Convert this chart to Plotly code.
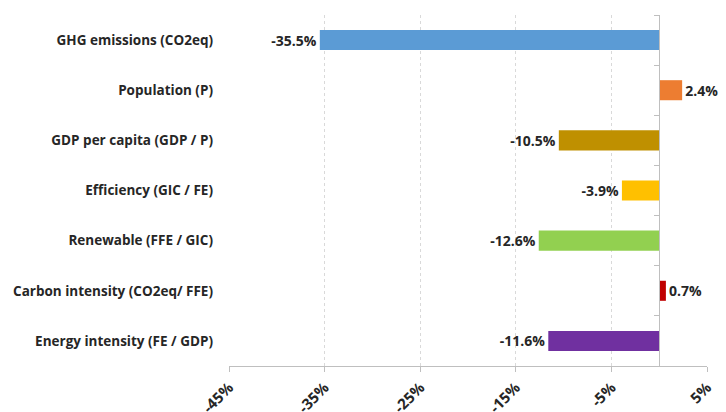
import plotly.graph_objects as go

categories = ["GHG emissions (CO2eq)", "Population (P)", "GDP per capita (GDP / P)",
              "Efficiency (GIC / FE)", "Renewable (FFE / GIC)",
              "Carbon intensity (CO2eq/ FFE)", "Energy intensity (FE / GDP)"]
values = [-35.5, 2.4, -10.5, -3.9, -12.6, 0.7, -11.6]
colors = ["#5B9BD5", "#ED7D31", "#BF9000", "#FFC000", "#92D050", "#C00000", "#7030A0"]
tick_vals = [-45, -35, -25, -15, -5, 5]
tick_text = ["-45%", "-35%", "-25%", "-15%", "-5%", "5%"]

font_fam = "Open Sans"
txt_col = "#262626"

fig = go.Figure()
fig.add_trace(go.Bar(
    x=values, y=categories, orientation="h",
    marker=dict(color=colors, line=dict(width=0)),
    text=[f"{v:.1f}%" for v in values],
    textposition="outside", cliponaxis=False,
    textfont=dict(family=font_fam, size=14, color=txt_col, weight="bold"),
    width=0.4, showlegend=False,
))
# invisible helper trace for the category-boundary axis at x=0
fig.add_trace(go.Scatter(x=[0], y=[0], yaxis="y2", mode="markers",
                         marker=dict(opacity=0), hoverinfo="skip", showlegend=False))

fig.update_layout(
    width=726, height=412,
    margin=dict(l=229, r=19, t=15, b=46, autoexpand=False),
    paper_bgcolor="white", plot_bgcolor="white",
    xaxis=dict(range=[-45, 5], tickvals=tick_vals, ticktext=tick_text, tickangle=-45,
               showgrid=True, gridcolor="#D9D9D9", griddash="dot", gridwidth=1,
               zeroline=False, showline=True, linecolor="#BFBFBF", linewidth=1,
               ticks="outside", ticklen=5, tickcolor="#BFBFBF",
               ticklabelstandoff=1,
               tickfont=dict(family=font_fam, size=15, color=txt_col, weight="bold"),
               automargin=False, fixedrange=True),
    yaxis=dict(categoryorder="array", categoryarray=categories[::-1],
               range=[-0.5, 6.5], showgrid=False, zeroline=False, showline=False,
               ticks="", ticklabelstandoff=15,
               tickfont=dict(family=font_fam, size=13.5, color=txt_col, weight="bold"),
               automargin=False, fixedrange=True),
    yaxis2=dict(overlaying="y", anchor="free", position=0.9, range=[-0.5, 6.5],
                tickvals=[-0.5, 0.5, 1.5, 2.5, 3.5, 4.5, 5.5, 6.5],
                showticklabels=False, ticks="outside", ticklen=5, tickcolor="#BFBFBF",
                showline=True, linecolor="#BFBFBF", linewidth=1,
                showgrid=False, zeroline=False, side="left", fixedrange=True),
)

fig.write_html("out.html", config={"displayModeBar": False},
               post_script="document.body.style.margin='0';")
